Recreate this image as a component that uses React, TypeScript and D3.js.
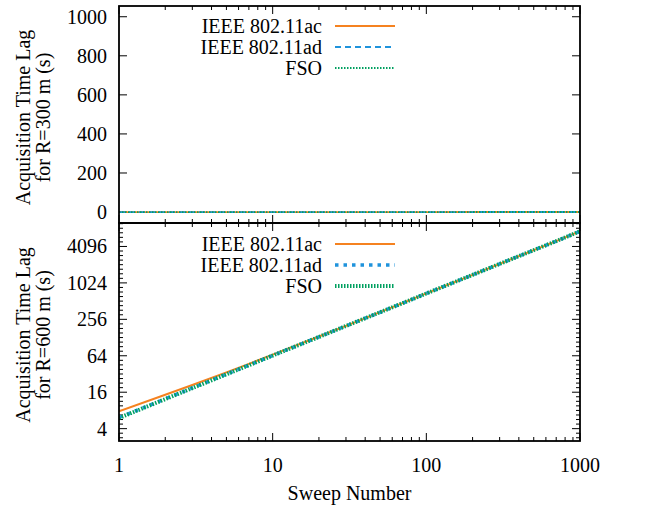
import React from "react";
import * as d3 from "d3";

const sweeps = [1, 2, 3, 5, 7, 10, 20, 30, 50, 70, 100, 200, 300, 500, 700, 1000];

// R = 300 m (all values are tiny compared to the 0..1000 axis)
const r300Ac = [0.02, 0.03, 0.04, 0.05, 0.06, 0.07, 0.09, 0.1, 0.12, 0.14, 0.16, 0.2, 0.24, 0.28, 0.31, 0.35];
const r300Ad = [0.01, 0.02, 0.03, 0.04, 0.05, 0.06, 0.08, 0.09, 0.11, 0.13, 0.15, 0.19, 0.23, 0.27, 0.3, 0.34];
const r300Fso = [0.01, 0.02, 0.03, 0.04, 0.05, 0.06, 0.08, 0.09, 0.11, 0.13, 0.15, 0.19, 0.23, 0.27, 0.3, 0.34];

// R = 600 m
const r600Ac = [7.7, 14.5, 21, 34, 47, 67, 133, 200, 336, 474, 686, 1390, 2110, 3560, 5010, 7300];
const r600Ad = [6.1, 12.4, 18.8, 31.7, 44.7, 64.7, 131, 199, 335, 473, 685, 1390, 2110, 3560, 5010, 7300];
const r600Fso = [6.0, 12.3, 18.7, 31.6, 44.6, 64.6, 131, 199, 335, 473, 685, 1390, 2110, 3560, 5010, 7300];

const xTickValues = [1, 10, 100, 1000];
const topYTicks = [0, 200, 400, 600, 800, 1000];
const bottomYTicks = [4, 16, 64, 256, 1024, 4096];
const seriesNames = ["IEEE 802.11ac", "IEEE 802.11ad", "FSO"];

const ORANGE = "#f58220";
const BLUE = "#1f93dc";
const GREEN = "#00a060";
const FONT = "'Liberation Serif', 'Times New Roman', serif";
const FS = 20;

const W = 654;
const H = 508;
const L = 119;
const R = 580;
const TOP1 = 6;
const MID = 223;
const BOT = 441;

export default function App() {
  const x = d3.scaleLog().domain([1, 1000]).range([L, R]);
  const yTop = d3.scaleLinear().domain([-56, 1055]).range([MID, TOP1]);
  const yBot = d3.scaleLog().base(2).domain([2.5, 10000]).range([BOT, MID]);

  const xMinor: number[] = [];
  for (let d = 1; d < 1000; d *= 10) for (let k = 2; k <= 9; k++) xMinor.push(d * k);

  const yBotMinor: number[] = [];
  for (let e = -2; e <= 14; e += 0.25) {
    const v = Math.pow(2, e);
    if (v > 2.5 && v < 10000 && Math.abs(e / 2 - Math.round(e / 2)) > 1e-6) yBotMinor.push(v);
  }

  const mk = (ys: number[], yS: any) =>
    d3
      .line<number>()
      .x((_, i) => x(sweeps[i]))
      .y((d) => yS(d))(ys) as string;

  const majorLen = 8;
  const minorLen = 4;

  const txt = { fontSize: FS, fontFamily: FONT } as any;

  const xTicksFor = (yB: number, yT: number, key: string) => (
    <g key={key}>
      {xTickValues.map((v) => (
        <g key={"M" + v}>
          <line x1={x(v)} x2={x(v)} y1={yB} y2={yB - majorLen} stroke="#000" strokeWidth={1} />
          <line x1={x(v)} x2={x(v)} y1={yT} y2={yT + majorLen} stroke="#000" strokeWidth={1} />
        </g>
      ))}
      {xMinor.map((v) => (
        <g key={"m" + v}>
          <line x1={x(v)} x2={x(v)} y1={yB} y2={yB - minorLen} stroke="#000" strokeWidth={1} />
          <line x1={x(v)} x2={x(v)} y1={yT} y2={yT + minorLen} stroke="#000" strokeWidth={1} />
        </g>
      ))}
    </g>
  );

  const legend = (y0: number, styles: any[]) =>
    seriesNames.map((n, i) => {
      const yy = y0 + i * 21;
      return (
        <g key={n}>
          <text x={322} y={yy} textAnchor="end" dominantBaseline="central" style={txt}>
            {n}
          </text>
          <line x1={335} x2={395} y1={yy} y2={yy} {...styles[i]} fill="none" />
        </g>
      );
    });

  const topStyles = [
    { stroke: ORANGE, strokeWidth: 1.8 },
    { stroke: BLUE, strokeWidth: 1.8, strokeDasharray: "6 4" },
    { stroke: GREEN, strokeWidth: 1.8, strokeDasharray: "1.5 1.5" },
  ];
  const botStyles = [
    { stroke: ORANGE, strokeWidth: 2 },
    { stroke: BLUE, strokeWidth: 3.5, strokeDasharray: "3.5 5" },
    { stroke: GREEN, strokeWidth: 4, strokeDasharray: "1.5 1.5" },
  ];

  const topData = [r300Ac, r300Ad, r300Fso];
  const botData = [r600Ac, r600Ad, r600Fso];

  return (
    <svg width={W} height={H} style={{ display: "block", position: "absolute", left: 0, top: 0 }}>
      <rect width={W} height={H} fill="#fff" />
      <defs>
        <clipPath id="cTop">
          <rect x={L} y={TOP1} width={R - L} height={MID - TOP1} />
        </clipPath>
        <clipPath id="cBot">
          <rect x={L} y={MID} width={R - L} height={BOT - MID} />
        </clipPath>
      </defs>

      {/* top panel */}
      {topYTicks.map((v) => (
        <g key={"ty" + v}>
          <line x1={L} x2={L + majorLen} y1={yTop(v)} y2={yTop(v)} stroke="#000" />
          <line x1={R} x2={R - majorLen} y1={yTop(v)} y2={yTop(v)} stroke="#000" />
          <text x={107} y={yTop(v)} textAnchor="end" dominantBaseline="central" style={txt}>
            {v}
          </text>
        </g>
      ))}
      {xTicksFor(MID, TOP1, "xt1")}
      <g clipPath="url(#cTop)">
        {topData.map((d, i) => (
          <path key={i} d={mk(d, yTop)} fill="none" {...topStyles[i]} />
        ))}
      </g>
      {legend(26, topStyles)}

      {/* bottom panel */}
      {yBotMinor.map((v) => (
        <g key={"bym" + v}>
          <line x1={L} x2={L + minorLen} y1={yBot(v)} y2={yBot(v)} stroke="#000" />
          <line x1={R} x2={R - minorLen} y1={yBot(v)} y2={yBot(v)} stroke="#000" />
        </g>
      ))}
      {bottomYTicks.map((v) => (
        <g key={"by" + v}>
          <line x1={L} x2={L + majorLen} y1={yBot(v)} y2={yBot(v)} stroke="#000" />
          <line x1={R} x2={R - majorLen} y1={yBot(v)} y2={yBot(v)} stroke="#000" />
          <text x={107} y={yBot(v)} textAnchor="end" dominantBaseline="central" style={txt}>
            {v}
          </text>
        </g>
      ))}
      {xTicksFor(BOT, MID, "xt2")}
      <g clipPath="url(#cBot)">
        {botData.map((d, i) => (
          <path key={i} d={mk(d, yBot)} fill="none" {...botStyles[i]} />
        ))}
      </g>
      {legend(244, botStyles)}

      {/* frames */}
      <rect x={L} y={TOP1} width={R - L} height={MID - TOP1} fill="none" stroke="#000" strokeWidth={1.8} />
      <rect x={L} y={MID} width={R - L} height={BOT - MID} fill="none" stroke="#000" strokeWidth={1.8} />

      {/* x tick labels */}
      {xTickValues.map((v) => (
        <text key={"xl" + v} x={x(v)} y={465} textAnchor="middle" dominantBaseline="central" style={txt}>
          {v}
        </text>
      ))}
      <text x={(L + R) / 2} y={493} textAnchor="middle" dominantBaseline="central" style={txt}>
        Sweep Number
      </text>

      {/* y axis titles */}
      <g transform={`translate(23, ${(TOP1 + MID) / 2 + 3}) rotate(-90)`}>
        <text x={0} y={0} textAnchor="middle" dominantBaseline="central" style={txt}>
          Acquisition Time Lag
        </text>
        <text x={0} y={20} textAnchor="middle" dominantBaseline="central" style={txt}>
          for R=300 m (s)
        </text>
      </g>
      <g transform={`translate(23, ${(MID + BOT) / 2 + 3}) rotate(-90)`}>
        <text x={0} y={0} textAnchor="middle" dominantBaseline="central" style={txt}>
          Acquisition Time Lag
        </text>
        <text x={0} y={20} textAnchor="middle" dominantBaseline="central" style={txt}>
          for R=600 m (s)
        </text>
      </g>
    </svg>
  );
}
